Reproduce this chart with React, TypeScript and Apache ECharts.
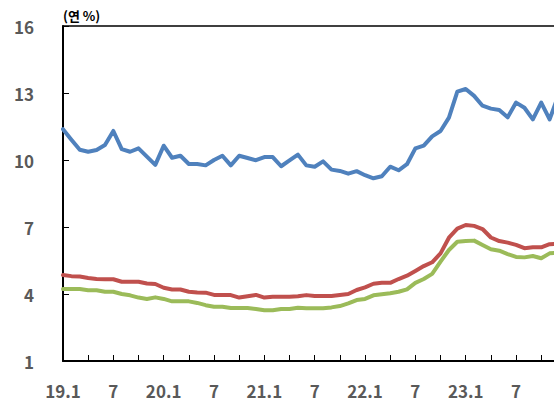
import React, { useEffect, useRef } from "react";
import * as echarts from "echarts";

const years = ["19", "20", "21", "22", "23"];
const monthNums = [1, 2, 3, 4, 5, 6, 7, 8, 9, 10, 11, 12];
const categories: string[] = [];
years.forEach((y) => monthNums.forEach((m) => categories.push(`${y}.${m}`)));

const yTicks = [1, 4, 7, 10, 13, 16];

const blueSeries = [
  11.38, 10.91, 10.46, 10.37, 10.45, 10.67, 11.3, 10.49, 10.37, 10.52,
  10.15, 9.78, 10.64, 10.1, 10.19, 9.82, 9.82, 9.76, 10.0, 10.19,
  9.76, 10.19, 10.09, 9.99, 10.13, 10.13, 9.72, 9.98, 10.24, 9.76,
  9.7, 9.94, 9.57, 9.51, 9.39, 9.5, 9.32, 9.18, 9.27, 9.7,
  9.54, 9.81, 10.52, 10.64, 11.06, 11.3, 11.9, 13.06, 13.18, 12.87,
  12.43, 12.3, 12.24, 11.91, 12.57, 12.34, 11.82, 12.57, 11.82, 12.85,
];

const redSeries = [
  4.85, 4.8, 4.78, 4.72, 4.67, 4.66, 4.66, 4.55, 4.55, 4.55,
  4.47, 4.45, 4.28, 4.2, 4.2, 4.1, 4.07, 4.06, 3.96, 3.96,
  3.95, 3.84, 3.9, 3.96, 3.84, 3.88, 3.88, 3.88, 3.9, 3.95,
  3.91, 3.91, 3.91, 3.96, 4.0, 4.18, 4.3, 4.46, 4.5, 4.5,
  4.67, 4.82, 5.03, 5.25, 5.42, 5.82, 6.52, 6.93, 7.09, 7.05,
  6.91, 6.53, 6.37, 6.3, 6.2, 6.05, 6.09, 6.09, 6.23, 6.25,
];

const greenSeries = [
  4.22, 4.22, 4.22, 4.17, 4.17, 4.1, 4.1, 4.0, 3.94, 3.84,
  3.78, 3.85, 3.78, 3.67, 3.67, 3.67, 3.6, 3.5, 3.43, 3.43,
  3.37, 3.37, 3.37, 3.33, 3.27, 3.27, 3.33, 3.33, 3.38, 3.36,
  3.36, 3.36, 3.4, 3.46, 3.58, 3.73, 3.78, 3.94, 3.99, 4.03,
  4.1, 4.21, 4.5, 4.67, 4.9, 5.45, 5.97, 6.34, 6.37, 6.39,
  6.19, 6.0, 5.94, 5.79, 5.66, 5.64, 5.7, 5.6, 5.82, 5.85,
];

const FONT = "'Noto Sans CJK KR', 'Noto Sans', sans-serif";

export default function App() {
  const ref = useRef<HTMLDivElement>(null);
  useEffect(() => {
    if (!ref.current) return;
    const chart = echarts.init(ref.current, null, { renderer: "svg" });
    const lineSeries = (name: string, data: number[], color: string) => ({
      name,
      type: "line",
      data,
      symbol: "none",
      smooth: false,
      lineStyle: { color, width: 4, cap: "round", join: "round" },
      itemStyle: { color },
    });
    chart.setOption({
      animation: false,
      backgroundColor: "#ffffff",
      grid: { left: 63, right: 2, top: 26, bottom: 41 },
      graphic: [
        {
          type: "text",
          left: 63,
          top: 9,
          style: {
            text: "(연 %)",
            font: `bold 13px ${FONT}`,
            fill: "#000000",
          },
        },
      ],
      xAxis: [
        {
          type: "category",
          data: categories,
          boundaryGap: false,
          axisLine: { show: true, lineStyle: { color: "#000000", width: 2 } },
          axisTick: {
            show: true,
            inside: true,
            length: 6,
            interval: (i: number) => i % 3 === 0,
            lineStyle: { color: "#000000", width: 1 },
          },
          axisLabel: {
            interval: (i: number) => i % 6 === 0,
            formatter: (v: string) => {
              const [y, m] = v.split(".");
              return m === "1" ? `${y}.1` : m;
            },
            color: "#595959",
            fontSize: 17,
            fontWeight: "bold",
            fontFamily: FONT,
            margin: 21,
          },
          splitLine: { show: false },
        },
        {
          type: "category",
          data: categories,
          boundaryGap: false,
          position: "top",
          axisLine: { show: true, lineStyle: { color: "#000000", width: 1.5 } },
          axisTick: { show: false },
          axisLabel: { show: false },
          splitLine: { show: false },
        },
      ],
      yAxis: {
        type: "value",
        min: 1,
        max: 16,
        axisLine: { show: true, lineStyle: { color: "#000000", width: 2 } },
        axisTick: {
          show: true,
          inside: true,
          length: 6,
          customValues: yTicks,
          lineStyle: { color: "#000000", width: 1 },
        },
        axisLabel: {
          customValues: yTicks,
          color: "#595959",
          fontSize: 17,
          fontWeight: "bold",
          fontFamily: FONT,
          margin: 29,
        },
        splitLine: { show: false },
      },
      series: [
        lineSeries("blue", blueSeries, "#4F81BD"),
        lineSeries("red", redSeries, "#C0504D"),
        lineSeries("green", greenSeries, "#9BBB59"),
      ],
    });
    return () => chart.dispose();
  }, []);
  return (
    <div
      style={{
        position: "fixed",
        left: 0,
        top: 0,
        width: 554,
        height: 402,
        overflow: "hidden",
        background: "#fff",
      }}
    >
      <div ref={ref} style={{ width: 560, height: 402 }} />
    </div>
  );
}
